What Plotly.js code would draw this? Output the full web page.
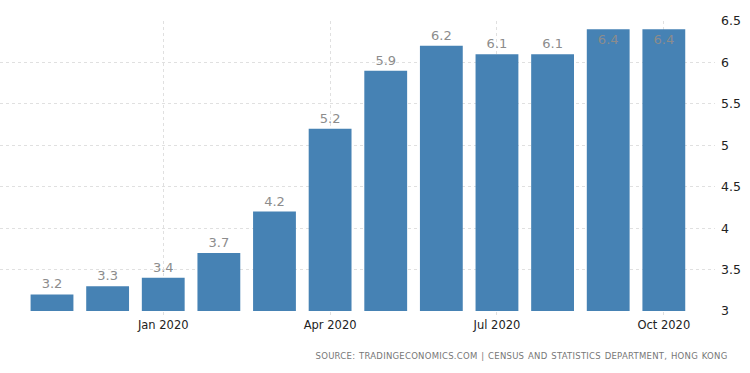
<!DOCTYPE html>
<html>
<head>
<meta charset="utf-8">
<script src="https://cdn.plot.ly/plotly-3.0.1.min.js"></script>
<style>html,body{margin:0;padding:0;background:#fff;}#chart{width:750px;height:373px;}</style>
</head>
<body>
<div id="chart"></div>
<script>
const months = ["Nov 2019","Dec 2019","Jan 2020","Feb 2020","Mar 2020","Apr 2020","May 2020","Jun 2020","Jul 2020","Aug 2020","Sep 2020","Oct 2020"];
const rate = [3.2, 3.3, 3.4, 3.7, 4.2, 5.2, 5.9, 6.2, 6.1, 6.1, 6.4, 6.4];
const tickMonths = ["Jan 2020","Apr 2020","Jul 2020","Oct 2020"];
const yTicks = [3, 3.5, 4, 4.5, 5, 5.5, 6, 6.5];
const sourceText = "SOURCE: TRADINGECONOMICS.COM | CENSUS AND STATISTICS DEPARTMENT, HONG KONG";

const textPos = rate.map((v, i) => i >= rate.length - 2 ? "inside" : "outside");

const trace = {
  type: "bar",
  x: months,
  y: rate,
  width: 0.77,
  marker: {color: "#4682b4"},
  text: rate.map(v => v.toFixed(1)),
  textposition: textPos,
  insidetextanchor: "end",
  textangle: 0,
  constraintext: "none",
  cliponaxis: false,
  textfont: {family: "DejaVu Sans", size: 13, color: "#8c8c8c"},
  hoverinfo: "none"
};

const layout = {
  width: 750, height: 373,
  margin: {l: 0, r: 35, t: 21, b: 62},
  paper_bgcolor: "#fff", plot_bgcolor: "#fff",
  showlegend: false,
  xaxis: {
    type: "category",
    range: [-0.935, 11.92],
    tickmode: "array",
    tickvals: tickMonths,
    ticktext: tickMonths,
    showgrid: true,
    gridcolor: "#e0e0e0",
    griddash: "dot",
    gridwidth: 1,
    ticks: "outside", ticklen: 3, tickcolor: "#e0e0e0",
    zeroline: false, showline: false,
    tickfont: {family: "DejaVu Sans", size: 11.5, color: "#222"}
  },
  yaxis: {
    side: "right",
    range: [3, 6.5],
    tickmode: "array",
    tickvals: yTicks,
    ticktext: yTicks.map(String),
    showgrid: true,
    gridcolor: "#e0e0e0",
    griddash: "dot",
    gridwidth: 1,
    zeroline: false, showline: false,
    ticks: "",
    ticklabelstandoff: 5,
    tickfont: {family: "DejaVu Sans", size: 12.5, color: "#222"}
  },
  annotations: [{
    text: sourceText,
    xref: "paper", yref: "paper",
    x: 521 / 715, y: -0.155,
    xanchor: "center", yanchor: "middle",
    showarrow: false,
    font: {family: "DejaVu Sans", size: 8.5, color: "#777"}
  }]
};

Plotly.newPlot("chart", [trace], layout, {staticPlot: true, displayModeBar: false}).then(gd => {
  gd.querySelectorAll(".annotation-text").forEach(t => {
    t.style.letterSpacing = "0.25px";
    t.style.wordSpacing = "0.8px";
  });
});
</script>
</body>
</html>
